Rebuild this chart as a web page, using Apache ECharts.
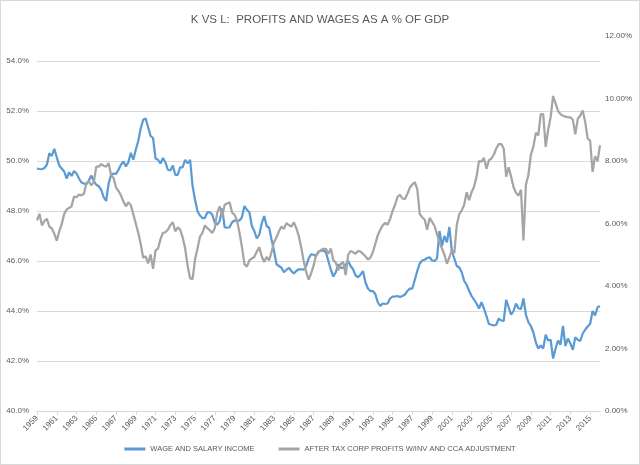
<!DOCTYPE html>
<html>
<head>
<meta charset="utf-8">
<script src="https://cdn.jsdelivr.net/npm/echarts@6/dist/echarts.min.js"></script>
<style>
  html, body { margin: 0; padding: 0; background: #fff; }
  #chart { width: 638px; height: 463px; border: 1px solid #d9d9d9; }
</style>
</head>
<body>
<div id="chart"></div>
<script>
// quarterly, 1959Q1 .. 2016Q1
const firstYear = 1959;
const quarterCount = 229;

const wageShare = [
  49.70, 49.68, 49.67, 49.72, 49.85, 50.31, 50.20, 50.49, 50.15, 49.82,
  49.70, 49.58, 49.30, 49.55, 49.40, 49.60, 49.50, 49.30, 49.14, 49.10,
  49.06, 49.22, 49.42, 49.20, 49.05, 48.99, 48.85, 48.55, 48.40, 49.10,
  49.45, 49.50, 49.48, 49.65, 49.85, 49.98, 49.78, 49.95, 50.33, 50.05,
  50.45, 50.80, 51.30, 51.65, 51.70, 51.35, 51.00, 50.92, 50.10, 50.05,
  49.90, 50.12, 49.95, 49.65, 49.62, 49.82, 49.45, 49.45, 49.75, 49.75,
  50.05, 49.90, 50.05, 49.00, 48.45, 47.99, 47.82, 47.72, 47.72, 47.95,
  47.95, 47.85, 47.53, 47.45, 47.60, 48.10, 47.35, 47.33, 47.35, 47.55,
  47.62, 47.60, 47.62, 47.75, 48.20, 48.05, 47.95, 47.40, 47.20, 46.90,
  47.05, 47.50, 47.80, 47.40, 47.33, 46.85, 46.40, 45.87, 45.80, 45.73,
  45.55, 45.65, 45.73, 45.60, 45.50, 45.60, 45.67, 45.67, 45.65, 45.80,
  46.10, 46.27, 46.25, 46.20, 46.38, 46.40, 46.42, 46.35, 46.00, 45.65,
  45.38, 45.55, 45.87, 45.73, 45.73, 45.85, 46.00, 45.80, 45.67, 45.42,
  45.35, 45.45, 45.60, 45.15, 44.90, 44.80, 44.80, 44.68, 44.35, 44.20,
  44.30, 44.28, 44.30, 44.50, 44.58, 44.58, 44.60, 44.56, 44.60, 44.66,
  44.80, 44.90, 44.90, 45.25, 45.60, 45.90, 46.02, 46.05, 46.12, 46.15,
  46.02, 46.00, 46.10, 47.20, 46.60, 47.00, 46.75, 47.36, 46.40, 46.10,
  45.80, 45.74, 45.55, 45.20, 45.05, 44.80, 44.60, 44.45, 44.30, 44.10,
  44.35, 44.10, 43.80, 43.48, 43.45, 43.42, 43.45, 43.70, 43.62, 43.60,
  44.45, 44.15, 43.85, 44.00, 44.30, 44.10, 44.08, 44.50, 43.85, 43.55,
  43.40, 43.15, 42.75, 42.50, 42.62, 42.50, 43.05, 42.82, 42.85, 42.10,
  42.50, 42.82, 42.65, 43.40, 42.60, 42.90, 42.70, 42.45, 42.95, 42.85,
  42.80, 43.10, 43.25, 43.38, 43.48, 44.00, 43.82, 44.15, 44.20
];

const profitShare = [
  6.10, 6.31, 5.94, 6.08, 6.15, 5.90, 5.84, 5.67, 5.45, 5.75,
  5.98, 6.30, 6.45, 6.50, 6.55, 6.86, 6.84, 6.93, 6.90, 6.95,
  7.30, 7.35, 7.22, 7.32, 7.82, 7.82, 7.90, 7.85, 7.82, 7.93,
  7.55, 7.46, 7.15, 7.04, 6.90, 6.70, 6.55, 6.68, 6.58, 6.30,
  6.00, 5.70, 5.35, 4.90, 4.95, 4.72, 5.01, 4.55, 5.14, 5.19,
  5.50, 5.70, 5.72, 5.80, 5.95, 6.04, 5.75, 5.88, 5.80, 5.55,
  5.20, 4.65, 4.25, 4.22, 4.85, 5.20, 5.58, 5.70, 5.94, 5.85,
  5.78, 5.70, 5.85, 6.35, 6.55, 6.22, 6.60, 6.64, 6.68, 6.35,
  6.28, 6.10, 5.70, 5.25, 4.70, 4.62, 4.82, 4.88, 4.93, 5.10,
  5.24, 4.95, 4.77, 4.93, 4.82, 5.10, 5.40, 5.56, 5.75, 5.90,
  5.83, 6.01, 5.95, 5.90, 6.04, 5.85, 5.60, 5.24, 4.80, 4.45,
  4.20, 4.40, 4.65, 4.98, 5.08, 5.15, 5.19, 5.19, 5.03, 5.20,
  4.82, 4.75, 4.50, 4.70, 4.77, 4.35, 5.00, 5.12, 5.08, 5.03,
  5.12, 5.10, 5.03, 4.95, 4.85, 4.90, 5.08, 5.35, 5.62, 5.80,
  5.94, 6.02, 5.96, 6.15, 6.40, 6.60, 6.85, 6.92, 6.80, 6.78,
  6.95, 7.15, 7.25, 7.32, 7.10, 6.30, 6.20, 6.12, 5.80, 6.18,
  6.05, 5.92, 5.65, 5.40, 5.20, 5.00, 4.71, 4.92, 5.15, 5.05,
  5.95, 6.30, 6.42, 6.60, 7.00, 6.75, 7.00, 7.18, 7.50, 8.00,
  7.98, 8.10, 7.75, 8.02, 8.08, 8.20, 8.40, 8.54, 8.55, 8.40,
  7.50, 7.80, 7.50, 7.16, 6.98, 6.89, 7.08, 5.46, 7.25, 7.55,
  8.20, 8.45, 8.90, 8.82, 9.50, 9.50, 8.45, 9.00, 9.40, 10.08,
  9.85, 9.60, 9.50, 9.45, 9.42, 9.40, 9.40, 9.32, 8.85, 9.35,
  9.45, 9.62, 9.25, 8.72, 8.65, 7.65, 8.15, 8.00, 8.50
];

const quarters = [];
for (let i = 0; i < quarterCount; i++) {
  quarters.push((firstYear + Math.floor(i / 4)) + "Q" + ((i % 4) + 1));
}

const textColor = "#595959";
const font = "'Liberation Sans', sans-serif";

const chart = echarts.init(document.getElementById("chart"));

chart.setOption({
  animation: false,
  color: ["#5B9BD5", "#A5A5A5"],
  textStyle: { fontFamily: font },
  title: {
    text: "K VS L:  PROFITS AND WAGES AS A % OF GDP",
    left: "center",
    top: 8,
    textStyle: {
      color: textColor,
      fontSize: 11.5,
      fontWeight: "normal",
      fontFamily: font,
    },
  },
  grid: {
    left: 36,
    right: 39,
    top: 35,
    bottom: 53,
  },
  legend: {
    bottom: 6,
    left: "center",
    itemWidth: 21,
    itemHeight: 3,
    itemGap: 24,
    icon: "rect",
    textStyle: { color: textColor, fontSize: 7.5, fontFamily: font },
    data: ["WAGE AND SALARY INCOME", "AFTER TAX CORP PROFITS W/INV AND CCA ADJUSTMENT"],
  },
  xAxis: {
    type: "category",
    boundaryGap: false,
    data: quarters,
    axisLine: { lineStyle: { color: "#d9d9d9" } },
    axisTick: { interval: 7, length: 4, lineStyle: { color: "#d9d9d9" } },
    axisLabel: {
      interval: 7,
      rotate: 45,
      color: textColor,
      fontSize: 8,
      margin: 6,
      formatter: (v) => v.slice(0, 4),
    },
  },
  yAxis: [
    {
      type: "value",
      min: 40,
      max: 55,
      interval: 2,
      axisLine: { show: false },
      axisTick: { show: false },
      axisLabel: {
        color: textColor,
        fontSize: 8,
        margin: 8,
        showMaxLabel: false,
        formatter: (v) => v.toFixed(1) + "%",
      },
      splitLine: { showMaxLine: false, lineStyle: { color: "#d9d9d9" } },
    },
    {
      type: "value",
      min: 0,
      max: 12,
      interval: 2,
      axisLine: { show: false },
      axisTick: { show: false },
      axisLabel: {
        color: textColor,
        fontSize: 8,
        margin: 5,
        formatter: (v) => v.toFixed(2) + "%",
      },
      splitLine: { show: false },
    },
  ],
  series: [
    {
      name: "WAGE AND SALARY INCOME",
      type: "line",
      yAxisIndex: 0,
      data: wageShare,
      showSymbol: false,
      lineStyle: { width: 2.25 },
    },
    {
      name: "AFTER TAX CORP PROFITS W/INV AND CCA ADJUSTMENT",
      type: "line",
      yAxisIndex: 1,
      data: profitShare,
      showSymbol: false,
      lineStyle: { width: 2.25 },
    },
  ],
});
</script>
</body>
</html>
